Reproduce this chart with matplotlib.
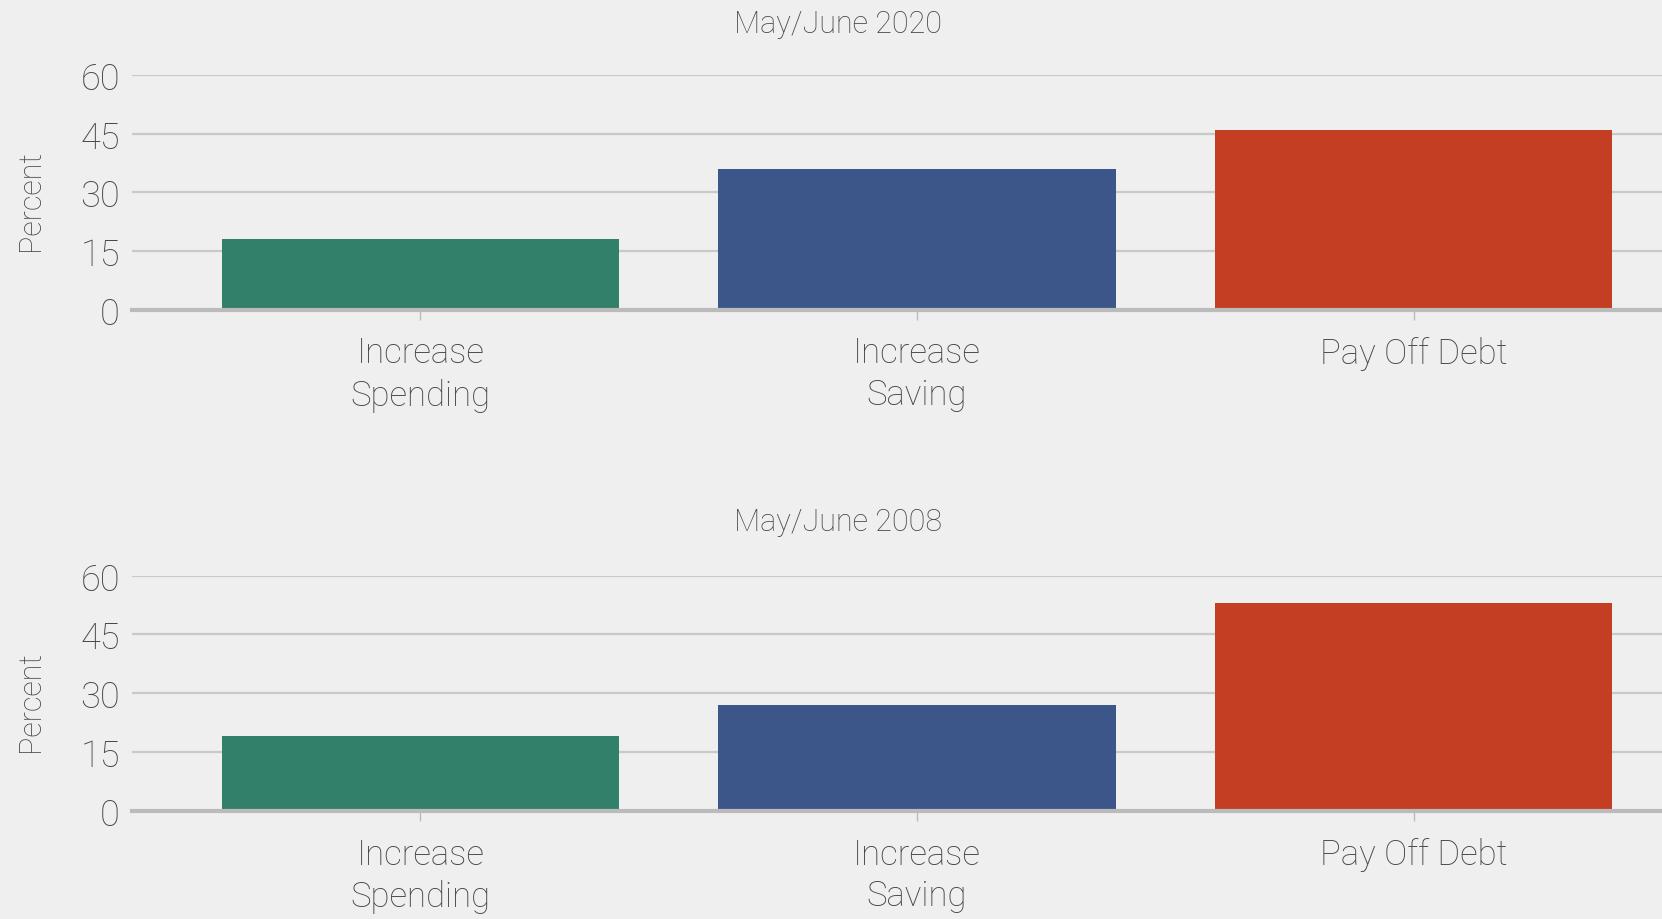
import matplotlib
matplotlib.use("Agg")
import matplotlib.pyplot as plt

categories = ["Increase\nSpending", "Increase\nSaving", "Pay Off Debt"]
values_2020 = [18, 36, 46]
values_2008 = [19, 27, 53]
titles = ["May/June 2020", "May/June 2008"]
yticks = [0, 15, 30, 45, 60]
colors = ["#33806A", "#3D568A", "#C43E24"]

BG = "#EFEFEF"
TXT = "#474747"
GRID = "#C9C9C9"

plt.rcParams['font.family'] = ['Roboto', 'DejaVu Sans']
plt.rcParams['font.weight'] = 'light'

fig = plt.figure(figsize=(16.62, 9.2), dpi=100, facecolor=BG)

panels = [
    (values_2020, titles[0], [0.0797, 0.6624, 0.9203, 0.2550], 0.973),
    (values_2008, titles[1], [0.0797, 0.1174, 0.9203, 0.2559], 0.432),
]

for vals, title, rect, ty in panels:
    ax = fig.add_axes(rect, facecolor=BG)
    x = list(range(len(categories)))
    ax.bar(x, vals, width=0.8, color=colors, zorder=3)
    ax.set_xlim(-0.58, 2.5)
    ax.set_ylim(0, 60)
    ax.set_yticks(yticks)
    ax.set_xticks(x)
    ax.set_xticklabels(categories, fontsize=25, color=TXT, linespacing=1.3,
                       fontweight='light')
    for lbl in ax.get_yticklabels():
        lbl.set_fontweight('light')
    ax.tick_params(axis='y', length=0, pad=9, labelsize=26, labelcolor=TXT)
    ax.tick_params(axis='x', length=7, width=1, color="#BBBBBB", pad=12)
    ax.grid(axis='y', color=GRID, linewidth=1.6, zorder=0)
    for s in ['top', 'right', 'left']:
        ax.spines[s].set_visible(False)
    ax.spines['bottom'].set_color("#BBBBBB")
    ax.spines['bottom'].set_linewidth(3)
    ax.spines['bottom'].set_zorder(4)
    ax.set_ylabel("Percent", fontsize=22, color=TXT, fontweight='light')
    ax.yaxis.set_label_coords(-0.057, 0.47)
    fig.text(0.504, ty, title, fontsize=22, color=TXT, ha='center', va='center',
             fontweight='light')

fig.savefig("out.png", dpi=100, facecolor=BG)
